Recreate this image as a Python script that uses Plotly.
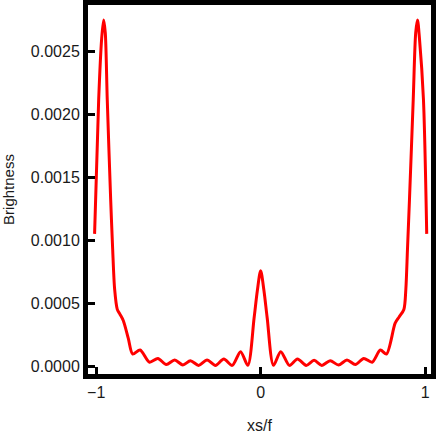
import plotly.graph_objects as go

# curve (x in units of xs/f)
xs_f = [-1.01, -0.985, -0.967, -0.955, -0.945, -0.933, -0.912, -0.900, -0.888,
        -0.872, -0.855, -0.835, -0.805, -0.778, -0.733, -0.676, -0.625, -0.574,
        -0.523, -0.473, -0.427, -0.377, -0.326, -0.275, -0.224, -0.173, -0.122,
        -0.078, -0.04, -0.02, 0.0, 0.02, 0.04, 0.078, 0.122, 0.175, 0.224,
        0.277, 0.325, 0.372, 0.423, 0.474, 0.525, 0.576, 0.627, 0.678, 0.728,
        0.765, 0.818, 0.842, 0.871, 0.883, 0.893, 0.905, 0.928, 0.943, 0.954,
        0.966, 0.99, 1.01]
brightness = [0.00105, 0.00212, 0.00260, 0.00275, 0.00265, 0.00212, 0.00132, 0.00093, 0.00061,
              0.00045, 0.00041, 0.00036, 0.00022, 0.000095, 0.000127, 0.00003, 0.00006, 0.000012,
              0.000048, 0.000008, 0.000042, 0.000005, 0.000048, 0.000005, 0.000056, 0.000005, 0.000114,
              0.000005, 0.00038, 0.00060, 0.000757, 0.00060, 0.00038, 0.000005, 0.000114, 0.000005, 0.000056,
              0.000005, 0.000045, 0.000005, 0.000042, 0.000008, 0.000048, 0.000012, 0.00006, 0.00003, 0.000127,
              0.000095, 0.00034, 0.00039, 0.00045, 0.00061, 0.00093, 0.00132, 0.00212, 0.00265, 0.00275,
              0.00260, 0.00212, 0.00105]

x_ticks = [-1, 0, 1]
x_tick_text = ["\u22121", "0", "1"]
y_ticks = [0.0, 0.0005, 0.0010, 0.0015, 0.0020, 0.0025]

fig = go.Figure()
fig.add_trace(go.Scatter(x=xs_f, y=brightness, mode="lines",
    line=dict(color="red", width=3, shape="spline", smoothing=0.8),
    showlegend=False, hoverinfo="skip"))

fig.update_xaxes(range=[-1.05, 1.036], tickvals=x_ticks, ticktext=x_tick_text,
    showgrid=False, zeroline=False, showline=True, mirror=True, automargin=False,
    linecolor="black", linewidth=5, ticks="inside", ticklen=7, tickwidth=3,
    tickcolor="black", tickfont=dict(size=16, color="#1a1a1a"),
    title=dict(text="xs/f", font=dict(size=16, color="#1a1a1a"), standoff=21))
fig.update_yaxes(range=[-0.0000635, 0.002869], tickvals=y_ticks, tickformat=".4f",
    showgrid=False, zeroline=False, showline=True, mirror=True, automargin=False,
    linecolor="black", linewidth=5, ticks="inside", ticklen=7, tickwidth=3,
    tickcolor="black", tickfont=dict(size=16, color="#1a1a1a"),
    title=dict(text="Brightness", font=dict(size=15, color="#1a1a1a"), standoff=14))

fig.update_layout(width=436, height=436, margin=dict(l=88, r=5, t=5, b=62),
    plot_bgcolor="white", paper_bgcolor="white",
    font=dict(family="Liberation Sans, Arial, sans-serif"))

# drop the page's default body margin so the figure sits at the window corner
fig.write_html("out.html", config={"displayModeBar": False},
               post_script="document.body.style.margin='0px';")
